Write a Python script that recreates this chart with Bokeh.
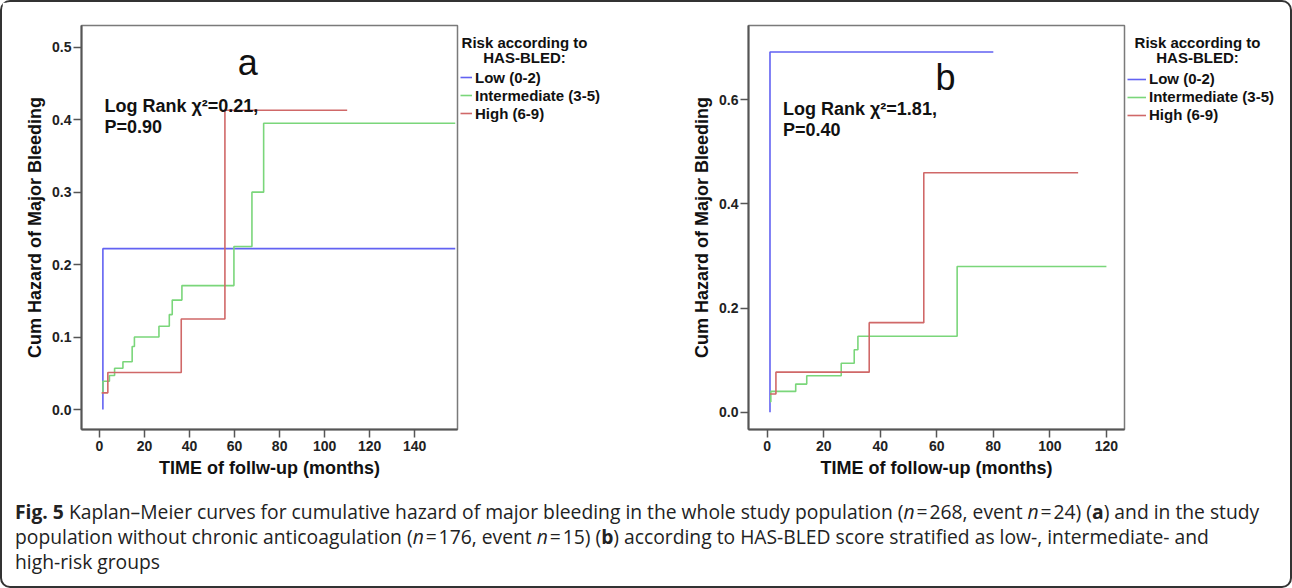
from bokeh.plotting import figure
from bokeh.models import (Label, Legend, LegendItem, FixedTicker,
                          PrintfTickFormatter, Div, Range1d)
from bokeh.layouts import row, column
from bokeh.embed import file_html
from bokeh.resources import INLINE

# ---------------- data: panel a (whole population) ----------------
a_low_t = [1.5, 1.5, 158]
a_low_h = [0.0, 0.222, 0.222]
a_int_t = [1.0, 1.5, 4.4, 6.7, 10.4, 14.5, 15.5, 26.4, 31.0, 32.3, 36.6, 59.7, 67.7, 72.9, 158]
a_int_h = [0.023, 0.039, 0.047, 0.057, 0.066, 0.087, 0.100, 0.115, 0.131, 0.151, 0.171, 0.225, 0.300, 0.395, 0.395]
a_high_t = [1.0, 3.7, 36.3, 55.7, 110]
a_high_h = [0.023, 0.051, 0.125, 0.413, 0.413]
a_xticks = [0, 20, 40, 60, 80, 100, 120, 140]
a_yticks = [0.0, 0.1, 0.2, 0.3, 0.4, 0.5]

# ---------------- data: panel b (without chronic anticoagulation) ----------------
b_low_t = [1.0, 1.0, 80]
b_low_h = [0.0, 0.692, 0.692]
b_int_t = [1.0, 1.3, 10.1, 14.0, 26.2, 30.8, 32.1, 67.2, 120]
b_int_h = [0.020, 0.040, 0.054, 0.070, 0.094, 0.120, 0.146, 0.280, 0.280]
b_high_t = [1.0, 3.1, 36.1, 55.4, 110]
b_high_h = [0.035, 0.077, 0.172, 0.460, 0.460]
b_xticks = [0, 20, 40, 60, 80, 100, 120]
b_yticks = [0.0, 0.2, 0.4, 0.6]

group_labels = ["Low (0-2)", "Intermediate (3-5)", "High (6-9)"]
legend_title = ["Risk according to", "HAS-BLED:"]
colors = ["#6262f2", "#7ad67a", "#d06868"]

FONT = "Liberation Sans"
TXT = "#111111"

series_a = [(a_low_t, a_low_h), (a_int_t, a_int_h), (a_high_t, a_high_h)]
series_b = [(b_low_t, b_low_h), (b_int_t, b_int_h), (b_high_t, b_high_h)]


def make_panel(xr, yr, xticks, yticks, xlabel, series, borders,
               letter, letter_pos, stat_lines, stat_pos):
    left, right, top, bottom = borders
    p = figure(frame_width=376, frame_height=404,
               x_range=Range1d(*xr), y_range=Range1d(*yr),
               output_backend="svg", toolbar_location=None,
               min_border_left=left, min_border_right=right,
               min_border_top=top, min_border_bottom=bottom,
               background_fill_color="white", border_fill_color="white")
    p.xgrid.visible = False
    p.ygrid.visible = False
    p.outline_line_color = "#7a7a7a"
    p.outline_line_width = 1.5

    for ax in (p.xaxis[0], p.yaxis[0]):
        ax.axis_line_color = "#555555"
        ax.axis_line_width = 2
        ax.major_tick_line_color = "#555555"
        ax.major_tick_line_width = 1.5
        ax.major_tick_out = 8
        ax.major_tick_in = 0
        ax.minor_tick_line_color = None
        ax.major_label_text_font = FONT
        ax.major_label_text_font_style = "bold"
        ax.major_label_text_font_size = "14px"
        ax.major_label_text_color = "#222222"
        ax.axis_label_text_font = FONT
        ax.axis_label_text_font_style = "bold"
        ax.axis_label_text_font_size = "18px"
        ax.axis_label_text_color = TXT
    p.xaxis.ticker = FixedTicker(ticks=xticks)
    p.yaxis.ticker = FixedTicker(ticks=yticks)
    p.yaxis.formatter = PrintfTickFormatter(format="%.1f")
    p.xaxis.major_label_standoff = 3
    p.yaxis.major_label_standoff = 2
    p.xaxis.axis_label = xlabel
    p.yaxis.axis_label = "Cum Hazard of Major Bleeding"
    p.xaxis.axis_label_standoff = 4
    p.yaxis.axis_label_standoff = 4

    for (t, h), c in zip(series, colors):
        p.step(t, h, mode="after", line_color=c, line_width=1.6)

    p.add_layout(Label(x=letter_pos[0], y=letter_pos[1], text=letter,
                       text_align="center", text_baseline="alphabetic",
                       text_font=FONT, text_font_size="36px", text_color=TXT))

    for txt, yy in zip(stat_lines, stat_pos[1]):
        p.add_layout(Label(x=stat_pos[0], y=yy, text=txt,
                           text_align="left", text_baseline="alphabetic",
                           text_font=FONT, text_font_style="bold",
                           text_font_size="18px", text_color=TXT))
    return p


def make_legend_fig(width, glyph_w, loc, title_x, title_y, series):
    # a narrow strip to the right of the panel that carries the legend;
    # its ranges are set so that its own (legend-source) steps stay out of view
    q = figure(width=width, height=480, min_border=0,
               x_axis_location=None, y_axis_location=None,
               x_range=Range1d(-2, -1), y_range=Range1d(-2, -1),
               output_backend="svg", toolbar_location=None,
               outline_line_color=None, background_fill_color="white",
               border_fill_color="white")
    q.grid.visible = False
    rends = [q.step(t, h, mode="after", line_color=c, line_width=1.6)
             for (t, h), c in zip(series, colors)]
    legend = Legend(items=[LegendItem(label=lab, renderers=[r])
                           for lab, r in zip(group_labels, rends)],
                    location=loc,
                    label_text_font=FONT, label_text_font_style="bold",
                    label_text_font_size="15px", label_text_color=TXT,
                    glyph_width=glyph_w, glyph_height=18, label_height=18,
                    label_standoff=3, spacing=0, padding=0, margin=0,
                    border_line_color=None, background_fill_alpha=0)
    q.add_layout(legend)
    for txt, dy in zip(legend_title, (0, -15)):
        q.add_layout(Label(x=title_x, y=title_y + dy,
                           x_units="screen", y_units="screen", text=txt,
                           text_align="center", text_baseline="alphabetic",
                           text_font=FONT, text_font_style="bold",
                           text_font_size="15px", text_color=TXT))
    return q


pa = make_panel((-8, 159), (-0.0276, 0.53), a_xticks, a_yticks,
                "TIME of follw-up (months)", series_a,
                (79, 2, 21, 55),
                "a", (65.8, 0.479),
                ["Log Rank χ²=0.21,", "P=0.90"], (2.2, [0.419, 0.390]))
la = make_legend_fig(190, 12, (1, 305), 65, 385, series_a)

pb = make_panel((-6.6, 126.4), (-0.0332, 0.7428), b_xticks, b_yticks,
                "TIME of follow-up (months)", series_b,
                (99, 2, 23, 53),
                "b", (63.1, 0.642),
                ["Log Rank χ²=1.81,", "P=0.40"], (5.6, [0.583, 0.542]))
lb = make_legend_fig(154, 19, (1, 303.5), 71, 385, series_b)

caption = Div(
    text=('<b>Fig. 5</b> Kaplan–Meier curves for cumulative hazard of major bleeding in the whole '
          'study population (<i>n</i>&#8202;=&#8202;268, event <i>n</i>&#8202;=&#8202;24) (<b>a</b>) and in the study<br>'
          'population without chronic anticoagulation (<i>n</i>&#8202;=&#8202;176, event <i>n</i>&#8202;=&#8202;15) (<b>b</b>) '
          'according to HAS-BLED score stratified as low-, intermediate- and<br>'
          'high-risk groups'),
    width=1278, height=94,
    styles={"font-family": "Open Sans", "font-size": "19.3px", "line-height": "25px",
            "padding-left": "8px", "padding-top": "12px", "color": "#222222",
            "white-space": "nowrap", "box-sizing": "border-box"})

layout = column(row(pa, la, pb, lb), caption,
                styles={"border": "2px solid #333333", "border-radius": "10px",
                        "background-color": "white"})

open("out.html", "w").write(file_html(layout, INLINE))
